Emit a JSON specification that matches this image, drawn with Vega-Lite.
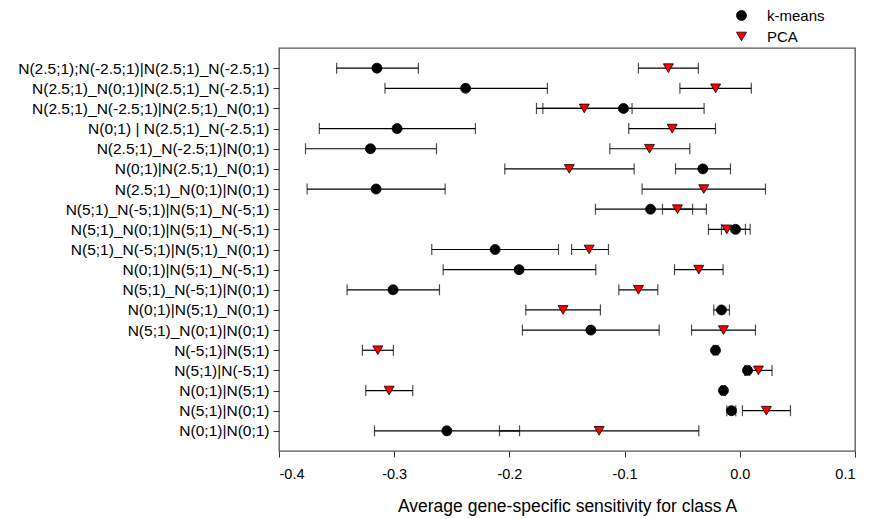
{
  "$schema": "https://vega.github.io/schema/vega-lite/v6.json",
  "autosize": "none",
  "width": 576,
  "height": 403,
  "padding": {"left": 279, "top": 48, "right": 15, "bottom": 68},
  "config": {
    "font": "Liberation Sans",
    "view": {"stroke": "#555555", "strokeWidth": 1.3},
    "axis": {"labelFont": "Liberation Sans", "titleFont": "Liberation Sans", "labelColor": "#000", "titleColor": "#000", "domainColor": "#555555", "tickColor": "#333", "grid": false}
  },
  "data": {"values": [
    {"cat": "N(2.5;1);N(-2.5;1)|N(2.5;1)_N(-2.5;1)", "method": "k-means", "mean": -0.315, "lo": -0.350, "hi": -0.279},
    {"cat": "N(2.5;1);N(-2.5;1)|N(2.5;1)_N(-2.5;1)", "method": "PCA", "mean": -0.062, "lo": -0.088, "hi": -0.036},
    {"cat": "N(2.5;1)_N(0;1)|N(2.5;1)_N(-2.5;1)", "method": "k-means", "mean": -0.238, "lo": -0.308, "hi": -0.167},
    {"cat": "N(2.5;1)_N(0;1)|N(2.5;1)_N(-2.5;1)", "method": "PCA", "mean": -0.021, "lo": -0.052, "hi": 0.010},
    {"cat": "N(2.5;1)_N(-2.5;1)|N(2.5;1)_N(0;1)", "method": "k-means", "mean": -0.101, "lo": -0.171, "hi": -0.031},
    {"cat": "N(2.5;1)_N(-2.5;1)|N(2.5;1)_N(0;1)", "method": "PCA", "mean": -0.135, "lo": -0.1765, "hi": -0.0935},
    {"cat": "N(0;1) | N(2.5;1)_N(-2.5;1)", "method": "k-means", "mean": -0.2975, "lo": -0.365, "hi": -0.2295},
    {"cat": "N(0;1) | N(2.5;1)_N(-2.5;1)", "method": "PCA", "mean": -0.0587, "lo": -0.0964, "hi": -0.0211},
    {"cat": "N(2.5;1)_N(-2.5;1)|N(0;1)", "method": "k-means", "mean": -0.3206, "lo": -0.377, "hi": -0.2633},
    {"cat": "N(2.5;1)_N(-2.5;1)|N(0;1)", "method": "PCA", "mean": -0.0784, "lo": -0.1128, "hi": -0.0434},
    {"cat": "N(0;1)|N(2.5;1)_N(0;1)", "method": "k-means", "mean": -0.0321, "lo": -0.0558, "hi": -0.0081},
    {"cat": "N(0;1)|N(2.5;1)_N(0;1)", "method": "PCA", "mean": -0.148, "lo": -0.204, "hi": -0.0917},
    {"cat": "N(2.5;1)_N(0;1)|N(0;1)", "method": "k-means", "mean": -0.3157, "lo": -0.3756, "hi": -0.2558},
    {"cat": "N(2.5;1)_N(0;1)|N(0;1)", "method": "PCA", "mean": -0.0313, "lo": -0.0848, "hi": 0.0223},
    {"cat": "N(5;1)_N(-5;1)|N(5;1)_N(-5;1)", "method": "k-means", "mean": -0.0775, "lo": -0.1253, "hi": -0.029},
    {"cat": "N(5;1)_N(-5;1)|N(5;1)_N(-5;1)", "method": "PCA", "mean": -0.0541, "lo": -0.0671, "hi": -0.041},
    {"cat": "N(5;1)_N(0;1)|N(5;1)_N(-5;1)", "method": "k-means", "mean": -0.0037, "lo": -0.0159, "hi": 0.009},
    {"cat": "N(5;1)_N(0;1)|N(5;1)_N(-5;1)", "method": "PCA", "mean": -0.0113, "lo": -0.0272, "hi": 0.0049},
    {"cat": "N(5;1)_N(-5;1)|N(5;1)_N(0;1)", "method": "k-means", "mean": -0.2124, "lo": -0.2674, "hi": -0.1574},
    {"cat": "N(5;1)_N(-5;1)|N(5;1)_N(0;1)", "method": "PCA", "mean": -0.1308, "lo": -0.146, "hi": -0.114},
    {"cat": "N(0;1)|N(5;1)_N(-5;1)", "method": "k-means", "mean": -0.1916, "lo": -0.2575, "hi": -0.125},
    {"cat": "N(0;1)|N(5;1)_N(-5;1)", "method": "PCA", "mean": -0.0356, "lo": -0.0567, "hi": -0.0145},
    {"cat": "N(5;1)_N(-5;1)|N(0;1)", "method": "k-means", "mean": -0.301, "lo": -0.3409, "hi": -0.2607},
    {"cat": "N(5;1)_N(-5;1)|N(0;1)", "method": "PCA", "mean": -0.088, "lo": -0.105, "hi": -0.0712},
    {"cat": "N(0;1)|N(5;1)_N(0;1)", "method": "k-means", "mean": -0.0159, "lo": -0.0226, "hi": -0.009},
    {"cat": "N(0;1)|N(5;1)_N(0;1)", "method": "PCA", "mean": -0.1534, "lo": -0.1858, "hi": -0.121},
    {"cat": "N(5;1)_N(0;1)|N(0;1)", "method": "k-means", "mean": -0.1293, "lo": -0.1887, "hi": -0.070},
    {"cat": "N(5;1)_N(0;1)|N(0;1)", "method": "PCA", "mean": -0.0142, "lo": -0.0419, "hi": 0.0136},
    {"cat": "N(-5;1)|N(5;1)", "method": "k-means", "mean": -0.0211, "lo": -0.023, "hi": -0.019},
    {"cat": "N(-5;1)|N(5;1)", "method": "PCA", "mean": -0.3142, "lo": -0.3276, "hi": -0.3007},
    {"cat": "N(5;1)|N(-5;1)", "method": "k-means", "mean": 0.0067, "lo": 0.0048, "hi": 0.0086},
    {"cat": "N(5;1)|N(-5;1)", "method": "PCA", "mean": 0.0162, "lo": 0.0044, "hi": 0.028},
    {"cat": "N(0;1)|N(5;1)", "method": "k-means", "mean": -0.0142, "lo": -0.016, "hi": -0.0124},
    {"cat": "N(0;1)|N(5;1)", "method": "PCA", "mean": -0.3044, "lo": -0.3247, "hi": -0.2839},
    {"cat": "N(5;1)|N(0;1)", "method": "k-means", "mean": -0.0072, "lo": -0.0113, "hi": -0.0035},
    {"cat": "N(5;1)|N(0;1)", "method": "PCA", "mean": 0.0231, "lo": 0.0023, "hi": 0.044},
    {"cat": "N(0;1)|N(0;1)", "method": "k-means", "mean": -0.2543, "lo": -0.3171, "hi": -0.1912},
    {"cat": "N(0;1)|N(0;1)", "method": "PCA", "mean": -0.1221, "lo": -0.2086, "hi": -0.0356}
  ]},
  "encoding": {
    "y": {
      "field": "cat", "type": "nominal",
      "sort": ["N(2.5;1);N(-2.5;1)|N(2.5;1)_N(-2.5;1)", "N(2.5;1)_N(0;1)|N(2.5;1)_N(-2.5;1)", "N(2.5;1)_N(-2.5;1)|N(2.5;1)_N(0;1)", "N(0;1) | N(2.5;1)_N(-2.5;1)", "N(2.5;1)_N(-2.5;1)|N(0;1)", "N(0;1)|N(2.5;1)_N(0;1)", "N(2.5;1)_N(0;1)|N(0;1)", "N(5;1)_N(-5;1)|N(5;1)_N(-5;1)", "N(5;1)_N(0;1)|N(5;1)_N(-5;1)", "N(5;1)_N(-5;1)|N(5;1)_N(0;1)", "N(0;1)|N(5;1)_N(-5;1)", "N(5;1)_N(-5;1)|N(0;1)", "N(0;1)|N(5;1)_N(0;1)", "N(5;1)_N(0;1)|N(0;1)", "N(-5;1)|N(5;1)", "N(5;1)|N(-5;1)", "N(0;1)|N(5;1)", "N(5;1)|N(0;1)", "N(0;1)|N(0;1)"],
      "scale": {"type": "point", "padding": 1},
      "axis": {"title": null, "labelFontSize": 15.5, "labelLimit": 0, "tickSize": 6, "labelPadding": 4, "domain": false}
    }
  },
  "layer": [
    {
      "mark": {"type": "rule", "color": "#000", "strokeWidth": 1.2},
      "encoding": {
        "x": {"field": "lo", "type": "quantitative", "scale": {"domain": [-0.4, 0.1], "nice": false, "zero": false},
          "axis": {"title": "Average gene-specific sensitivity for class A", "values": [-0.4, -0.3, -0.2, -0.1, 0.0, 0.1], "format": ".1f", "labelExpr": "replace(datum.label, '\u2212', '-')", "labelFontSize": 14.5, "titleFontSize": 17.5, "titleFontWeight": "normal", "tickSize": 6, "labelPadding": 10, "titlePadding": 17, "domain": false}},
        "x2": {"field": "hi"}
      }
    },
    {
      "mark": {"type": "tick", "color": "#000", "thickness": 1.2, "size": 11},
      "encoding": {"x": {"field": "lo", "type": "quantitative"}}
    },
    {
      "mark": {"type": "tick", "color": "#000", "thickness": 1.2, "size": 11},
      "encoding": {"x": {"field": "hi", "type": "quantitative"}}
    },
    {
      "mark": {"type": "point", "filled": true, "stroke": "#000", "strokeWidth": 0.8, "opacity": 1, "size": 100},
      "encoding": {
        "x": {"field": "mean", "type": "quantitative"},
        "fill": {"field": "method", "type": "nominal", "scale": {"domain": ["k-means", "PCA"], "range": ["#000000", "#ff0000"]},
          "legend": {"title": null, "orient": "none", "legendX": 455, "legendY": -40, "labelFontSize": 15, "symbolSize": 100, "rowPadding": 5, "labelOffset": 18, "symbolStrokeColor": "#000", "symbolStrokeWidth": 0.8}},
        "shape": {"field": "method", "type": "nominal", "scale": {"domain": ["k-means", "PCA"], "range": ["circle", "triangle-down"]}}
      }
    }
  ]
}
